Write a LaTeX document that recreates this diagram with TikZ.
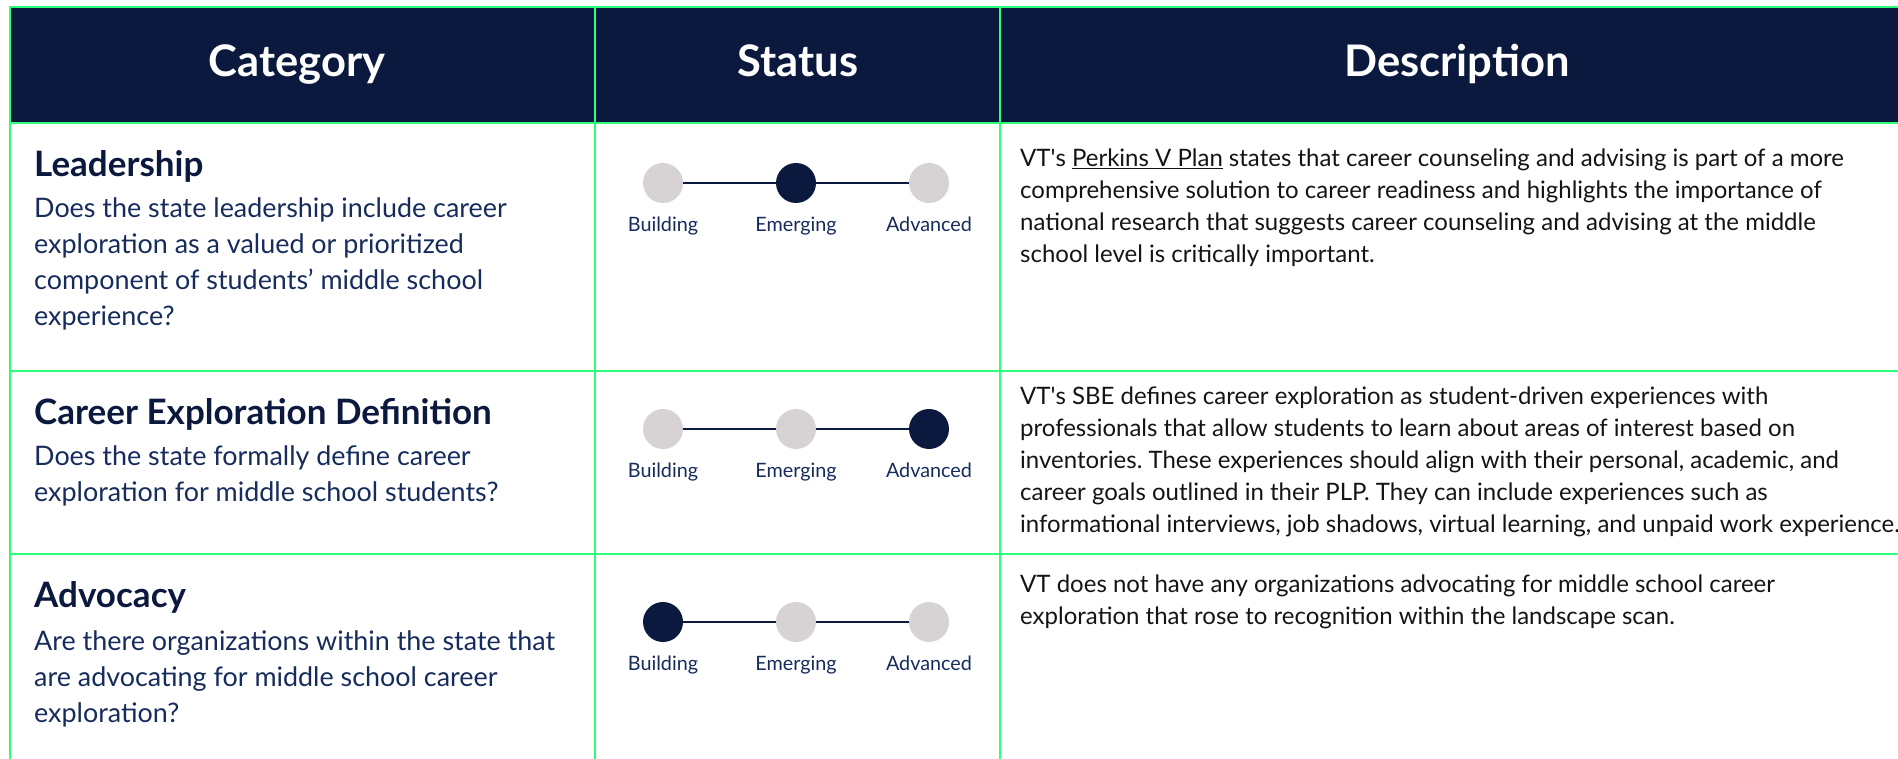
\documentclass[tikz,border=0pt]{standalone}
\usepackage{fontspec}
\setmainfont{Lato}
\frenchspacing
\definecolor{headnavy}{RGB}{11,25,62}
\definecolor{textnavy}{RGB}{22,44,92}
\definecolor{gridgreen}{RGB}{46,255,122}
\definecolor{dotgray}{RGB}{215,211,213}
\definecolor{bodyblack}{RGB}{20,20,20}
\tikzset{
  headtext/.style={anchor=base, inner sep=0, text=white, font=\fontsize{43.5}{50}\selectfont\bfseries},
  cattitle/.style={anchor=base west, inner sep=0, text=headnavy, font=\fontsize{35}{40}\selectfont\bfseries},
  catquestion/.style={anchor=base west, inner sep=0, align=left, text=textnavy, font=\fontsize{26.9}{36}\selectfont},
  desctext/.style={anchor=base west, inner sep=0, align=left, text=bodyblack, font=\fontsize{24}{32}\selectfont},
  statusdot/.style={circle, minimum size=40pt, inner sep=0, fill=dotgray},
  statuson/.style={statusdot, fill=headnavy},
  statuslabel/.style={anchor=base, inner sep=0, text=textnavy, font=\fontsize{19.8}{24}\selectfont},
  statusline/.style={headnavy, line width=2pt},
  gridline/.style={gridgreen, line width=2.5pt}
}
\begin{document}
\begin{tikzpicture}[x=1pt,y=-1pt]
\useasboundingbox (0,0) rectangle (1898,759);
% Header band
\fill[headnavy] (10,7) rectangle (1898,123);
% Grid
\draw[gridline] (10,759) -- (10,7) -- (1898,7);
\draw[gridline] (595,7) -- (595,759);
\draw[gridline] (1000,7) -- (1000,759);
\draw[gridline] (10,123) -- (1898,123);
\draw[gridline] (10,371) -- (1898,371);
\draw[gridline] (10,554) -- (1898,554);
% Header
\node[headtext] (hcat) at (297,77) {Category};
\node[headtext] (hstat) at (798,77) {Status};
\node[headtext] (hdesc) at (1457,77) {Description};

% Row: leadership (multi-line nodes sit on the baseline of their last line)
\node[cattitle] (lead) at (34,177) {Leadership};
\node[catquestion] (leadq) at (34,326) {Does the state leadership include career\\
	exploration as a valued or prioritized\\
	component of students’ middle school\\
	experience?};
\node[statusdot] (leadb) at (663,183) {};
\node[statuson] (leade) at (796,183) {};
\node[statusdot] (leada) at (929,183) {};
\draw[statusline] (leadb) -- (leade) -- (leada);
\node[statuslabel] at (663,232) {Building};
\node[statuslabel] at (796,232) {Emerging};
\node[statuslabel] at (929,232) {Advanced};
\node[desctext] (leadd) at (1020,263) {VT\textquotesingle s \underline{Perkins V Plan} states that career counseling and advising is part of a more\\
	comprehensive solution to career readiness and highlights the importance of\\
	national research that suggests career counseling and advising at the middle\\
	school level is critically important.};

% Row: definition
\node[cattitle] (defn) at (34,424) {Career Exploration Definition};
\node[catquestion] (defnq) at (34,501) {Does the state formally define career\\
	exploration for middle school students?};
\node[statusdot] (defnb) at (663,429) {};
\node[statusdot] (defne) at (796,429) {};
\node[statuson] (defna) at (929,429) {};
\draw[statusline] (defnb) -- (defne) -- (defna);
\node[statuslabel] at (663,477) {Building};
\node[statuslabel] at (796,477) {Emerging};
\node[statuslabel] at (929,477) {Advanced};
\node[desctext] (defnd) at (1020,532) {VT\textquotesingle s SBE defines career exploration as student-driven experiences with\\
	professionals that allow students to learn about areas of interest based on\\
	inventories. These experiences should align with their personal, academic, and\\
	career goals outlined in their PLP. They can include experiences such as\\
	informational interviews, job shadows, virtual learning, and unpaid work experience.};

% Row: advocacy
\node[cattitle] (advo) at (34,607) {Advocacy};
\node[catquestion] (advoq) at (34,722) {Are there organizations within the state that\\
	are advocating for middle school career\\
	exploration?};
\node[statuson] (advob) at (663,622) {};
\node[statusdot] (advoe) at (796,622) {};
\node[statusdot] (advoa) at (929,622) {};
\draw[statusline] (advob) -- (advoe) -- (advoa);
\node[statuslabel] at (663,670) {Building};
\node[statuslabel] at (796,670) {Emerging};
\node[statuslabel] at (929,670) {Advanced};
\node[desctext] (advod) at (1020,624) {VT does not have any organizations advocating for middle school career\\
	exploration that rose to recognition within the landscape scan.};
\end{tikzpicture}
\end{document}
